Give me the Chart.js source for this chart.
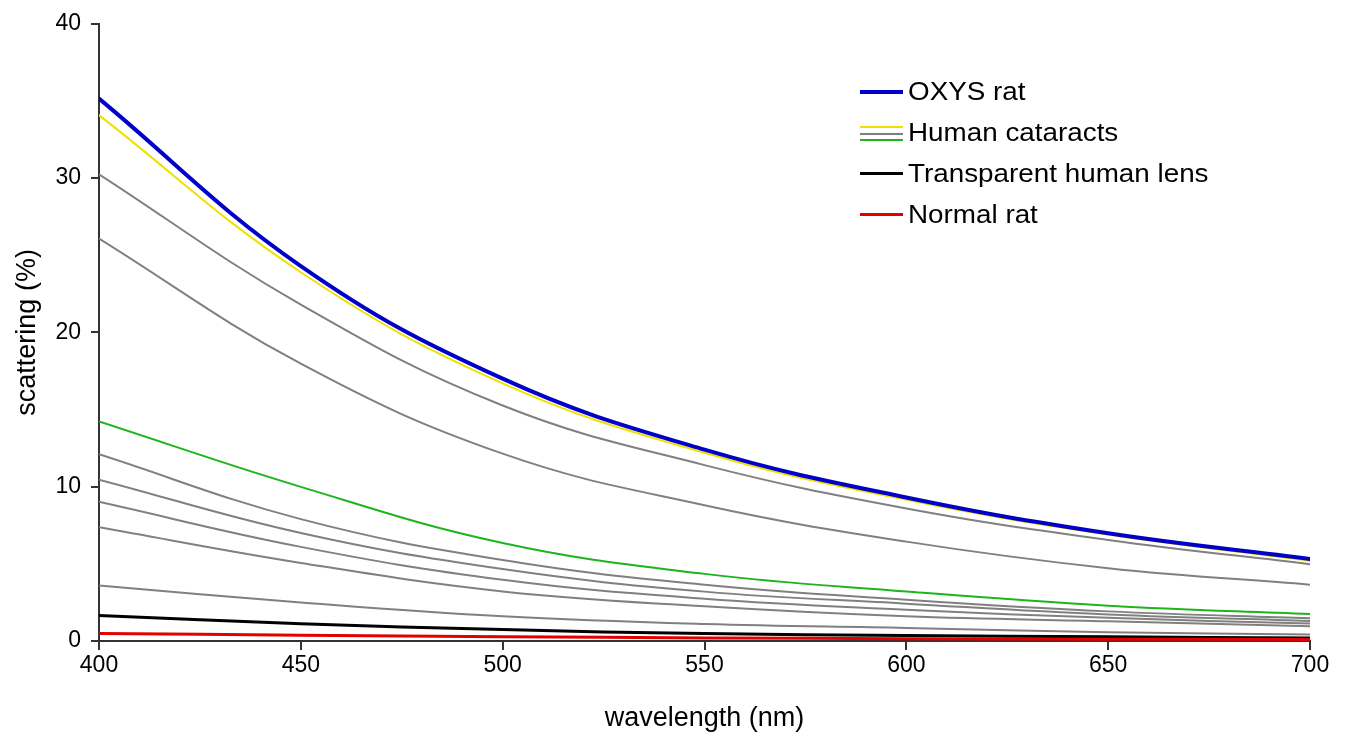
<!DOCTYPE html>
<html>
<head>
<meta charset="utf-8">
<script src="https://cdn.jsdelivr.net/npm/chart.js@4/dist/chart.umd.min.js"></script>
<style>
  body { margin: 0; background: #fff; }
  #wrap { position: relative; width: 1351px; height: 741px; }
  #legend {
    position: absolute; left: 860px; top: 71px;
    font-family: 'Liberation Sans', Arial, sans-serif; font-size: 26px; color: #000;
  }
  .row { position: relative; height: 41px; line-height: 41px; padding-left: 48px; white-space: nowrap; }
  .row .txt { display: inline-block; transform: scaleX(1.07); transform-origin: left center; }
  .swatch { position: absolute; left: 0; width: 43px; }
</style>
</head>
<body>
<div id="wrap">
  <canvas id="chart" width="1351" height="741"></canvas>
  <div id="legend">
    <div class="row"><span class="swatch" style="top:19px;height:4px;background:#0000c8"></span><span class="txt">OXYS rat</span></div>
    <div class="row"><span class="swatch" style="top:14px;height:2px;background:#f0e000"></span><span class="swatch" style="top:21px;height:2px;background:#808080"></span><span class="swatch" style="top:27px;height:2px;background:#1eb41e"></span><span class="txt">Human cataracts</span></div>
    <div class="row"><span class="swatch" style="top:19px;height:3px;background:#000"></span><span class="txt">Transparent human lens</span></div>
    <div class="row"><span class="swatch" style="top:19px;height:3px;background:#e00000"></span><span class="txt">Normal rat</span></div>
  </div>
</div>
<script>
/* ── data ── */
const wavelengths = [400, 450, 500, 550, 600, 650, 700];
const yTicks      = [0, 10, 20, 30, 40];

const oxysRat     = [35.15, 24.3, 17.0, 12.4, 9.3, 6.98, 5.32];
const normalRat   = [0.48, 0.38, 0.28, 0.2, 0.15, 0.12, 0.1];
const transparent = [1.66, 1.12, 0.74, 0.48, 0.35, 0.27, 0.2];

const cataractYellow = [34.08, 23.9, 16.7, 12.2, 9.15, 6.9, 5.2];
const cataractGreen  = [14.23, 9.99, 6.35, 4.35, 3.21, 2.29, 1.75];
const cataractGray1  = [30.25, 21.8, 15.26, 11.4, 8.59, 6.55, 4.98];
const cataractGray2  = [26.08, 17.97, 12.14, 8.8, 6.44, 4.72, 3.65];
const cataractGray3  = [12.1, 7.9, 5.25, 3.65, 2.68, 1.92, 1.47];
const cataractGray4  = [10.46, 7.0, 4.66, 3.2, 2.42, 1.71, 1.3];
const cataractGray5  = [9.02, 6.1, 3.97, 2.74, 2.03, 1.5, 1.13];
const cataractGray6  = [7.37, 5.06, 3.21, 2.25, 1.6, 1.28, 0.96];
const cataractGray7  = [3.6, 2.5, 1.6, 1.1, 0.85, 0.57, 0.42];

const pts = arr => arr.map((v, i) => ({ x: wavelengths[i], y: v }));

function line(label, arr, color, width) {
  return {
    label, data: pts(arr),
    borderColor: color, borderWidth: width,
    pointRadius: 0, fill: false,
    tension: 0.4,
    borderCapStyle: 'round'
  };
}

const grays = [cataractGray1, cataractGray2, cataractGray3, cataractGray4,
               cataractGray5, cataractGray6, cataractGray7];

// first dataset is drawn on top
const datasets = [
  line('OXYS rat', oxysRat, '#0000c8', 4),
  line('Normal rat', normalRat, '#e00000', 3),
  line('Transparent human lens', transparent, '#000000', 3),
  line('Human cataracts', cataractYellow, '#f0e000', 2),
  line('Human cataracts', cataractGreen, '#1eb41e', 2),
  ...grays.map(g => line('Human cataracts', g, '#808080', 2))
];

const tickFont  = { family: "'Liberation Sans', Arial, sans-serif", size: 23 };
const titleFont = { family: "'Liberation Sans', Arial, sans-serif", size: 27 };

new Chart(document.getElementById('chart'), {
  type: 'line',
  data: { datasets },
  options: {
    responsive: false,
    animation: false,
    layout: { padding: { top: 10, right: 41, left: 0, bottom: 0 } },
    plugins: { legend: { display: false }, tooltip: { enabled: false } },
    scales: {
      x: {
        type: 'linear', min: 400, max: 700,
        afterBuildTicks: s => { s.ticks = wavelengths.map(v => ({ value: v })); },
        afterFit: s => { s.height = 100; },
        grid: { drawOnChartArea: false, tickLength: 9, color: '#333', lineWidth: 2 },
        border: { color: '#333', width: 2 },
        ticks: { color: '#000', font: tickFont, padding: 2, maxRotation: 0 },
        title: { display: true, text: 'wavelength (nm)', color: '#000', font: titleFont,
                 padding: { top: 4, bottom: 6 } }
      },
      y: {
        min: 0, max: 40,
        afterBuildTicks: s => { s.ticks = yTicks.map(v => ({ value: v })); },
        afterFit: s => { s.width = 99; },
        grid: { drawOnChartArea: false, tickLength: 8, color: '#333', lineWidth: 2 },
        border: { color: '#333', width: 2 },
        ticks: { color: '#000', font: tickFont, padding: 10 },
        title: { display: true, text: 'scattering (%)', color: '#000', font: titleFont,
                 padding: { top: 11, bottom: 0 } }
      }
    }
  }
});
</script>
</body>
</html>
